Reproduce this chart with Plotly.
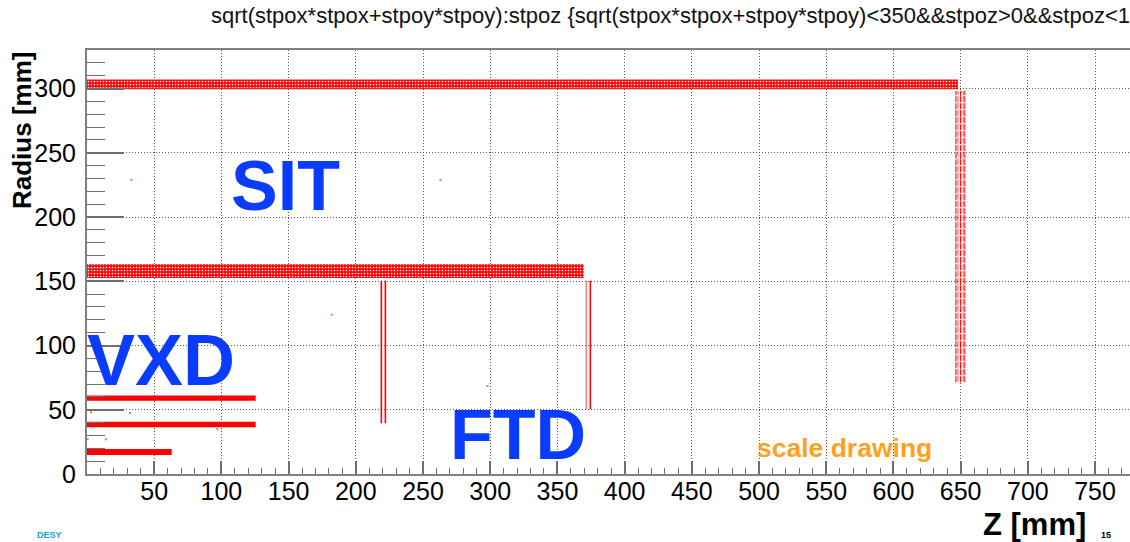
import plotly.graph_objects as go

# ---------------- data ----------------
# Barrel layers: radius band [r_min, r_max] covering z in [0, z_max]
sit_r_min = [152.5, 299.5]
sit_r_max = [163.5, 307.0]
sit_z_max = [369.5, 648.0]

vxd_r_min = [14.8, 36.4, 57.0]
vxd_r_max = [19.5, 40.7, 61.0]
vxd_z_max = [63.0, 125.5, 125.5]

# Forward disks: vertical hit lines at z, spanning [r_min, r_max]
ftd_z = [219.0, 222.0, 371.5, 374.5]
ftd_r_min = [39.5, 39.5, 50.5, 50.5]
ftd_r_max = [150.5, 150.5, 150.5, 150.5]
ftd_alpha = [1.0, 1.0, 0.5, 1.0]

end_z = [646.5, 648.0, 650.0, 652.0, 653.0]
end_r_min = [71.5, 72.0, 71.5, 72.0, 71.5]
end_r_max = [298.0, 298.0, 298.0, 298.0, 298.0]
end_alpha = [0.8, 0.5, 0.9, 0.5, 0.7]

# a few isolated stray hits
stray_z = [33, 263, 182, 298, 3, 32, 0.5, 14, 97]
stray_r = [229, 229, 124, 68.5, 48, 47.5, 27, 27, 35]

x_ticks = [50, 100, 150, 200, 250, 300, 350, 400, 450, 500, 550, 600, 650, 700, 750]
y_ticks = [0, 50, 100, 150, 200, 250, 300]

title_text = ("sqrt(stpox*stpox+stpoy*stpoy):stpoz {sqrt(stpox*stpox+stpoy*stpoy)"
              "<350&&stpoz>0&&stpoz<1000}")

# ---------------- geometry helpers ----------------
FONT = "Liberation Sans, Arial, Helvetica, sans-serif"
W, H = 1130, 542
L, T, B = 87, 50, 474   # plot area in pixels


def px(x):
    return (x - L) / (W - L)


def py(y):
    return (B - y) / (B - T)


def rects(rmin, rmax, zmax):
    xs, ys = [], []
    for a, b, z in zip(rmin, rmax, zmax):
        xs += [0, z, z, 0, 0, None]
        ys += [a, a, b, b, a, None]
    return xs, ys


fig = go.Figure()

xs, ys = rects(sit_r_min, sit_r_max, sit_z_max)
fig.add_trace(go.Scatter(x=xs, y=ys, mode="lines", fill="toself",
                         fillcolor="rgb(255,0,0)",
                         fillpattern=dict(shape=".", bgcolor="rgb(255,0,0)",
                                          fgcolor="rgba(255,235,235,1)",
                                          size=3, solidity=0.25, fillmode="replace"),
                         line=dict(width=0),
                         hoverinfo="skip", showlegend=False))

xs, ys = rects(vxd_r_min, vxd_r_max, vxd_z_max)
fig.add_trace(go.Scatter(x=xs, y=ys, mode="lines", fill="toself",
                         fillcolor="rgb(255,0,0)", line=dict(width=0),
                         hoverinfo="skip", showlegend=False))

for z, a, b, al in zip(ftd_z, ftd_r_min, ftd_r_max, ftd_alpha):
    fig.add_trace(go.Scatter(x=[z, z], y=[a, b], mode="lines",
                             line=dict(color=f"rgba(255,0,0,{al})", width=1.6),
                             hoverinfo="skip", showlegend=False))

for z, a, b, al in zip(end_z, end_r_min, end_r_max, end_alpha):
    fig.add_trace(go.Scatter(x=[z, z], y=[a, b], mode="lines",
                             line=dict(color=f"rgba(255,0,0,{al})", width=1.4, dash="6px,1px"),
                             hoverinfo="skip", showlegend=False))

fig.add_trace(go.Scatter(x=stray_z, y=stray_r, mode="markers",
                         marker=dict(color="rgba(255,0,0,0.6)", size=2, symbol="square"),
                         hoverinfo="skip", showlegend=False))

axis_common = dict(
    showline=True, linecolor="#808080", linewidth=2,
    ticks="inside", tickcolor="#6e6e6e", tickwidth=1.5,
    showgrid=True, gridcolor="#555555", gridwidth=1, griddash="1px,2px",
    zeroline=False,
    tickfont=dict(family=FONT, size=25, color="#000"),
)

fig.update_xaxes(range=[0, 776], tickvals=x_ticks, ticklen=13, mirror=True,
                 minor=dict(dtick=10, tick0=0, ticklen=6.5, ticks="inside",
                            tickcolor="#6e6e6e", tickwidth=1.3, showgrid=False),
                 ticklabelstandoff=-6,
                 **axis_common)
fig.update_yaxes(range=[0, 330], tickvals=y_ticks, ticklen=37,
                 minor=dict(dtick=10, tick0=0, ticklen=18, ticks="inside",
                            tickcolor="#6e6e6e", tickwidth=1.3, showgrid=False),
                 ticklabelstandoff=4,
                 **axis_common)

ann = []


def add(text, x, y, size, color="#000", bold=False, xanchor="left", angle=0):
    t = f"<b>{text}</b>" if bold else text
    ann.append(dict(text=t, x=px(x), y=py(y), xref="paper", yref="paper",
                    xanchor=xanchor, yanchor="middle", showarrow=False,
                    textangle=angle,
                    font=dict(family=FONT, size=size, color=color)))


add(title_text, 209, 15, 22, color="#111")
add("Radius [mm]", 22, 131, 26, bold=True, xanchor="center", angle=-90)
add("SIT", 229, 186, 70, color="#0a3cff", bold=True)
add("VXD", 85, 360, 72, color="#0a3cff", bold=True)
add("FTD", 448, 435, 70, color="#0a3cff", bold=True)
add("scale drawing", 755, 448, 26.5, color="#ffa020", bold=True)
add("Z [mm]", 1034, 524, 31, bold=True, xanchor="center")
add("15", 1106, 535, 9, bold=True, xanchor="center")
add("DESY", 49, 535, 9, color="#1a9ad6", bold=True, xanchor="center")

fig.update_layout(
    width=W, height=H,
    margin=dict(l=L, r=0, t=T, b=H - B, pad=0),
    paper_bgcolor="white", plot_bgcolor="white",
    annotations=ann, showlegend=False,
    font=dict(family=FONT),
)

fig.write_html("out.html")
